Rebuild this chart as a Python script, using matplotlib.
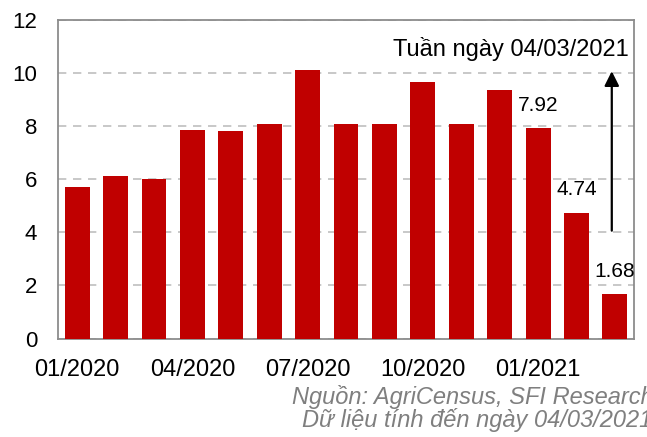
import matplotlib
matplotlib.use('Agg')
import matplotlib.pyplot as plt
import numpy as np

plt.rcParams['font.family'] = ['Liberation Sans', 'DejaVu Sans']

months = ['01/2020', '02/2020', '03/2020', '04/2020', '05/2020', '06/2020',
          '07/2020', '08/2020', '09/2020', '10/2020', '11/2020', '12/2020',
          '01/2021', '02/2021', '03/2021']
values = [5.71, 6.10, 6.00, 7.84, 7.80, 8.06, 10.12, 8.07, 8.09, 9.65,
          8.09, 9.35, 7.92, 4.74, 1.68]
labelled = {12: '7.92', 13: '4.74', 14: '1.68'}
yticks = [0, 2, 4, 6, 8, 10, 12]

fig = plt.figure(figsize=(6.47, 4.37), dpi=100)
ax = fig.add_axes([0.0896, 0.2252, 0.8904, 0.7299])

x = np.arange(len(values))
ax.bar(x, values, width=0.65, color='#C00000', zorder=3)

for i, txt in labelled.items():
    ax.annotate(txt, (x[i], values[i]), xytext=(0, 16.5), textcoords='offset points',
                ha='center', va='center', fontsize=15, color='black')

# arrow + note
ax.annotate('', xy=(13.92, 10.06), xytext=(13.92, 4.06),
            arrowprops=dict(arrowstyle='-|>', color='black', lw=1.6,
                            mutation_scale=22, shrinkA=0, shrinkB=0))
ax.text(14.35, 10.89, 'Tuần ngày 04/03/2021', ha='right', va='center', fontsize=17)

ax.set_xlim(-0.5, 14.5)
ax.set_ylim(0, 12)
ax.set_yticks(yticks)
ax.set_yticklabels([str(v) for v in yticks], fontsize=16)
ax.set_xticks(x[::3])
ax.set_xticklabels(months[::3], fontsize=17)
ax.tick_params(axis='both', length=0)
ax.tick_params(axis='y', pad=15)
ax.tick_params(axis='x', pad=15)

ax.grid(axis='y', linestyle=(0, (5, 4)), color='#BFBFBF', linewidth=1.2, zorder=0)
for s in ax.spines.values():
    s.set_color('#8C8C8C')
    s.set_linewidth(1.3)

# source note, runs off the right edge like the original
fig.text(291.7 / 647, 1 - 404 / 437, 'Nguồn: AgriCensus, SFI Research',
         fontsize=17, style='italic', color='#7F7F7F', ha='left', va='baseline')
fig.text(301.7 / 647, 1 - 427 / 437, 'Dữ liệu tính đến ngày 04/03/2021',
         fontsize=17, style='italic', color='#7F7F7F', ha='left', va='baseline')

plt.savefig('out.png', dpi=100)
